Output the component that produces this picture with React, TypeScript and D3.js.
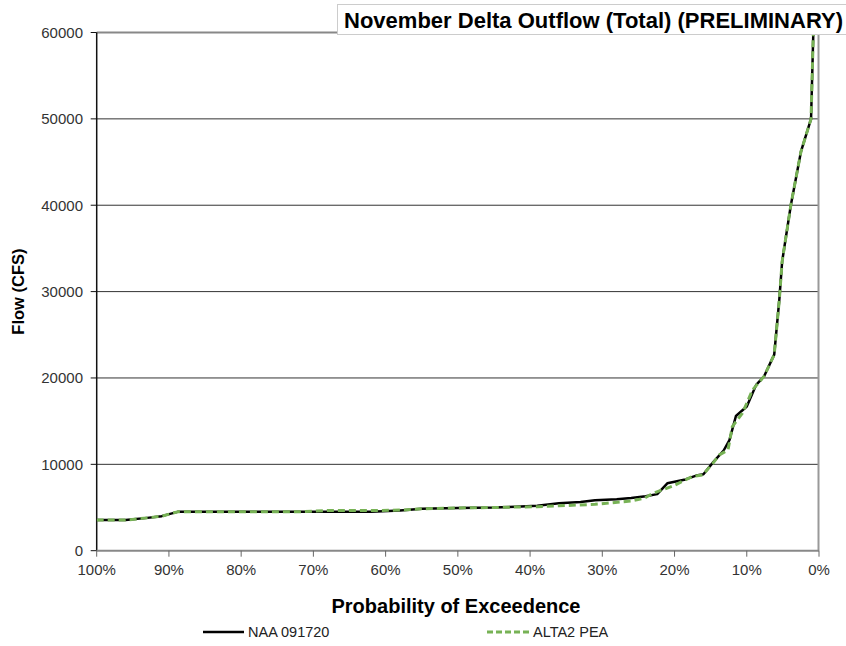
import React from "react";
import * as d3 from "d3";

const xTicks = [100, 90, 80, 70, 60, 50, 40, 30, 20, 10, 0];
const yTicks = [0, 10000, 20000, 30000, 40000, 50000, 60000];

const naaProb = [100, 96, 93, 91, 88.8, 80, 70, 62, 58, 55, 50, 45, 42, 39, 36, 33, 31, 28, 26, 24, 22.4, 21, 18.5, 17, 16, 14.7, 13.2, 12.4, 11.5, 10, 8.7, 7.6, 6.2, 5.5, 5.1, 3.9, 2.5, 1.1, 0];
const naaFlow = [3550, 3550, 3800, 4000, 4500, 4500, 4500, 4520, 4650, 4850, 4950, 5000, 5100, 5200, 5500, 5650, 5850, 5950, 6100, 6300, 6550, 7800, 8250, 8700, 8850, 10200, 11600, 12800, 15600, 16700, 19200, 20200, 22700, 29000, 33500, 40000, 46200, 50000, 85000];

const altProb = [100, 96, 93, 91, 88.8, 80, 72, 68, 62, 58, 55, 50, 45, 42, 39, 36, 31, 26, 24.2, 23, 20.2, 17.5, 16.1, 14.7, 13.8, 12.6, 12, 10.6, 9.2, 7.6, 6.2, 5.5, 5.1, 3.9, 2.5, 1.1, 0];
const altFlow = [3550, 3550, 3800, 4000, 4500, 4500, 4500, 4650, 4650, 4700, 4850, 4950, 5000, 5050, 5100, 5200, 5370, 5760, 6070, 6650, 7500, 8600, 8770, 10120, 11090, 11660, 14370, 15920, 18620, 20200, 22700, 29000, 33500, 40000, 46200, 50000, 85000];

const W = 846;
const H = 646;
const left = 96.7;
const right = 819;
const top = 32.5;
const bottom = 550.7;
const FONT = "'Liberation Sans', Arial, sans-serif";

export default function App() {
  const x = d3.scaleLinear().domain([100, 0]).range([left, right]);
  const y = d3.scaleLinear().domain([0, 60000]).range([bottom, top]);
  const line = d3
    .line<[number, number]>()
    .x((d) => x(d[0]))
    .y((d) => y(d[1]));
  const naa = naaProb.map((p, i) => [p, naaFlow[i]] as [number, number]);
  const alt = altProb.map((p, i) => [p, altFlow[i]] as [number, number]);

  return (
    <svg
      width={W}
      height={H}
      style={{ position: "absolute", left: 0, top: 0, background: "#fff" }}
      fontFamily={FONT}
    >
      <defs>
        <clipPath id="plot">
          <rect x={left} y={top} width={right - left} height={bottom - top} />
        </clipPath>
      </defs>
      {/* gridlines */}
      {yTicks.slice(1, -1).map((t) => (
        <line key={t} x1={left} x2={right} y1={y(t)} y2={y(t)} stroke="#333" strokeWidth={1} />
      ))}
      <line x1={left} x2={right} y1={y(60000)} y2={y(60000)} stroke="#888" strokeWidth={2} />
      {/* right border */}
      <line x1={right - 0.5} x2={right - 0.5} y1={top} y2={bottom} stroke="#999" strokeWidth={2} />
      {/* y axis */}
      <line x1={left} x2={left} y1={top} y2={bottom} stroke="#111" strokeWidth={1.5} />
      {yTicks.map((t) => (
        <g key={t}>
          <line x1={left - 6} x2={left} y1={y(t)} y2={y(t)} stroke="#111" strokeWidth={1} />
          <text x={83} y={y(t) + 5.5} textAnchor="end" fontSize={15} fill="#333">
            {t}
          </text>
        </g>
      ))}
      {/* x axis */}
      <line x1={left} x2={right} y1={bottom} y2={bottom} stroke="#888" strokeWidth={2} />
      {xTicks.map((t) => (
        <g key={t}>
          <line x1={x(t)} x2={x(t)} y1={bottom} y2={bottom + 6} stroke="#666" strokeWidth={1} />
          <text x={x(t)} y={575} textAnchor="middle" fontSize={15} fill="#333">
            {t + "%"}
          </text>
        </g>
      ))}
      {/* series */}
      <g clipPath="url(#plot)">
        <path d={line(naa) || ""} fill="none" stroke="#000" strokeWidth={2.5} strokeLinejoin="round" />
        <path
          d={line(alt) || ""}
          fill="none"
          stroke="#77b255"
          strokeWidth={3}
          strokeDasharray="7 4"
          strokeLinejoin="round"
        />
      </g>
      {/* axis titles */}
      <text x={456} y={613} textAnchor="middle" fontSize={20} fontWeight="bold" fill="#000">
        Probability of Exceedence
      </text>
      <text
        transform={`translate(24, ${(top + bottom) / 2}) rotate(-90)`}
        textAnchor="middle"
        fontSize={16.5}
        fontWeight="bold"
        fill="#000"
      >
        Flow (CFS)
      </text>
      {/* title */}
      <rect x={337.5} y={4.5} width={520} height={30} fill="#fff" stroke="#ccc" strokeWidth={1} />
      <text x={344} y={28} fontSize={21.5} fontWeight="bold" fill="#000" textLength={499} lengthAdjust="spacingAndGlyphs">
        November Delta Outflow (Total) (PRELIMINARY)
      </text>
      {/* legend */}
      <line x1={203} x2={244} y1={632} y2={632} stroke="#000" strokeWidth={2.5} />
      <text x={248} y={637} fontSize={14.5} fill="#222">
        NAA 091720
      </text>
      <line x1={487} x2={530} y1={632} y2={632} stroke="#77b255" strokeWidth={3} strokeDasharray="6 3" />
      <text x={533} y={637} fontSize={14.5} fill="#222">
        ALTA2 PEA
      </text>
    </svg>
  );
}
